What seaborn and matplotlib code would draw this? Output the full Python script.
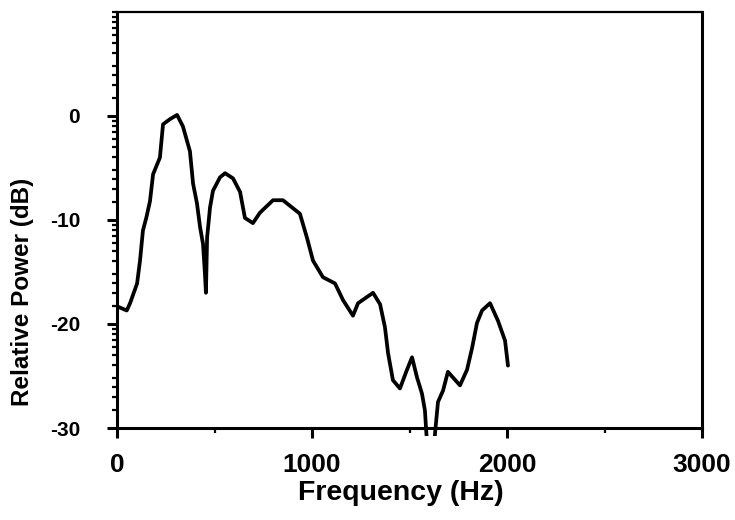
import numpy as np
import pandas as pd
import matplotlib
matplotlib.use("Agg")
import matplotlib.pyplot as plt
from matplotlib.transforms import Bbox, TransformedBbox
import seaborn as sns

# Spectrum samples: frequency (Hz) and relative power (dB)
freq_hz = [0, 50, 67, 103, 118, 133, 150, 169, 185, 220, 236, 272, 308, 338,
           374, 390, 410, 426, 441, 451, 456, 462, 477, 492, 528, 554, 595,
           631, 656, 697, 733, 800, 851, 938, 974, 1005, 1056, 1118, 1159,
           1210, 1236, 1313, 1349, 1374, 1390, 1415, 1451, 1487, 1513, 1538,
           1564, 1579, 1590, 1608, 1626, 1646, 1672, 1697, 1759, 1795, 1821,
           1846, 1872, 1913, 1954, 1990, 2005]
power_db = [-18.3, -18.7, -18.0, -16.1, -13.9, -11.0, -9.8, -8.2, -5.6, -4.0,
            -0.8, -0.3, 0.1, -1.0, -3.4, -6.5, -8.4, -10.7, -12.3, -15.2,
            -17.0, -11.7, -8.8, -7.2, -5.9, -5.5, -6.0, -7.3, -9.8, -10.3,
            -9.3, -8.1, -8.1, -9.4, -11.7, -13.9, -15.5, -16.1, -17.7, -19.2,
            -18.0, -17.0, -18.1, -20.3, -22.8, -25.4, -26.2, -24.4, -23.2,
            -25.1, -26.7, -28.3, -31.5, -34.0, -31.5, -27.5, -26.4, -24.6,
            -25.9, -24.4, -22.3, -19.9, -18.7, -18.0, -19.7, -21.6, -24.0]

x_major = [0, 1000, 2000, 3000]
x_minor = [500, 1500, 2500]
x_labels = ["0", "1000", "2000", "3000"]
y_major = [-30, -20, -10, 0]
y_labels = ["-30", "-20", "-10", "0"]
# sub-decade tick mantissas used on the power axis
y_minor_mantissa = [1.5, 2, 2.5, 3, 4, 5, 6, 7, 8, 9]

spectrum = pd.DataFrame({"Frequency (Hz)": freq_hz, "Relative Power (dB)": power_db})

sns.set_style("ticks")
plt.rcParams["font.family"] = ["Liberation Sans", "DejaVu Sans"]
plt.rcParams["font.weight"] = "bold"
plt.rcParams["axes.unicode_minus"] = False
for key in ["text.color", "axes.labelcolor", "xtick.color", "ytick.color",
            "xtick.labelcolor", "ytick.labelcolor", "axes.edgecolor"]:
    plt.rcParams[key] = "black"

fig = plt.figure(figsize=(7.35, 5.2), dpi=100)
ax = fig.add_axes([0.1592, 0.1769, 0.7959, 0.8001])

sns.lineplot(data=spectrum, x="Frequency (Hz)", y="Relative Power (dB)",
             sort=False, estimator=None, color="black", linewidth=2.7, ax=ax)

ax.set_xlim(0, 3000)
ax.set_ylim(-30, 10)

# let the deep notch poke slightly past the frequency axis
line = ax.lines[0]
line.set_clip_box(TransformedBbox(Bbox([[0, -30.8], [3000, 10]]), ax.transData))
line.set_solid_joinstyle("round")
line.set_solid_capstyle("round")

for side in ["left", "right", "top", "bottom"]:
    ax.spines[side].set_visible(True)
    ax.spines[side].set_linewidth(2.2)
    ax.spines[side].set_color("black")
ax.spines["top"].set_linewidth(1.6)

ax.set_xticks(x_major)
ax.set_xticklabels(x_labels)
ax.set_xticks(x_minor, minor=True)

y_minor = [b + 10 * np.log10(m) for b in y_major for m in y_minor_mantissa] + [10]
ax.set_yticks(y_major)
ax.set_yticklabels(y_labels)
ax.set_yticks(y_minor, minor=True)

ax.tick_params(axis="both", which="major", direction="out", length=7,
               width=2.2, color="black", labelcolor="black")
ax.tick_params(axis="both", which="minor", direction="out", length=3.5,
               width=1.6, color="black")
ax.tick_params(axis="x", which="major", labelsize=19, pad=11)
ax.tick_params(axis="y", which="major", labelsize=15, pad=19.5)
for lab in ax.get_xticklabels() + ax.get_yticklabels():
    lab.set_fontweight("bold")

ax.set_xlabel("Frequency (Hz)", fontsize=20.5, fontweight="bold", color="black")
ax.set_ylabel("Relative Power (dB)", fontsize=17.5, fontweight="bold", color="black")
ax.xaxis.set_label_coords(0.4855, -0.125)
ax.yaxis.label.set_va("center")
ax.yaxis.set_label_coords(-0.162, 0.327)

fig.savefig("out.png", dpi=100, facecolor="white")
